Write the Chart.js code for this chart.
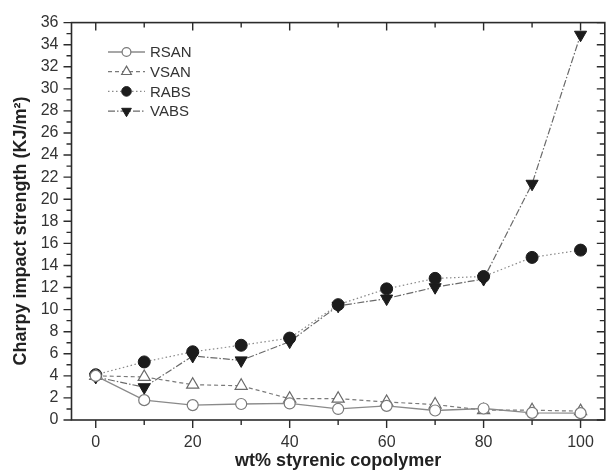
<!DOCTYPE html>
<html>
<head>
<meta charset="utf-8">
<script src="https://cdn.jsdelivr.net/npm/chart.js@4/dist/chart.umd.min.js"></script>
<style>
    html, body { margin: 0; padding: 0; background: #fff; }
    #wrap { width: 613px; height: 472px; }
</style>
</head>
<body>
<div id="wrap"><canvas id="chart" width="613" height="472"></canvas></div>
<script>
// wt% styrenic copolymer
const xValues = [0, 10, 20, 30, 40, 50, 60, 70, 80, 90, 100];

// Charpy impact strength, KJ/m2
const rsan = [4.0, 1.8, 1.35, 1.45, 1.5, 1.0, 1.28, 0.86, 1.04, 0.65, 0.62];
const vsan = [4.0, 3.9, 3.2, 3.1, 1.93, 1.93, 1.63, 1.4, 0.89, 0.89, 0.8];
const rabs = [4.1, 5.26, 6.18, 6.77, 7.42, 10.45, 11.88, 12.83, 13.0, 14.73, 15.39];
const vabs = [3.9, 2.97, 5.8, 5.4, 7.1, 10.34, 11.0, 12.03, 12.77, 21.4, 34.9];

const seriesNames = ['RSAN', 'VSAN', 'RABS', 'VABS'];

const xTicks = [0, 20, 40, 60, 80, 100];
const yTicks = [0, 2, 4, 6, 8, 10, 12, 14, 16, 18, 20, 22, 24, 26, 28, 30, 32, 34, 36];

const AXIS = '#2b2b2b';
const TEXT = '#333';
const FONT = '"Liberation Sans", Arial, sans-serif';

function points(ys) {
    return xValues.map((x, i) => ({ x, y: ys[i] }));
}

// ticks + frame, Origin style (left/bottom out, top/right in)
const framePlugin = {
    id: 'frame',
    afterDatasetsDraw(chart) {
        const { ctx, chartArea: a, scales: { x, y } } = chart;
        ctx.save();
        ctx.strokeStyle = AXIS;
        ctx.lineWidth = 1.6;
        ctx.strokeRect(a.left, a.top, a.right - a.left, a.bottom - a.top);

        ctx.lineWidth = 1.4;
        ctx.beginPath();
        for (let v = 0; v <= 100; v += 10) {
            const px = x.getPixelForValue(v);
            const len = v % 20 === 0 ? 8 : 5;
            ctx.moveTo(px, a.bottom); ctx.lineTo(px, a.bottom + len);
            ctx.moveTo(px, a.top); ctx.lineTo(px, a.top + len);
        }
        for (let v = 0; v <= 36; v += 1) {
            const py = y.getPixelForValue(v);
            const len = v % 2 === 0 ? 8 : 5;
            ctx.moveTo(a.left, py); ctx.lineTo(a.left - len, py);
            ctx.moveTo(a.right, py); ctx.lineTo(a.right - len, py);
        }
        ctx.stroke();

        // y title, a bit lower than the chart area centre like the original
        ctx.translate(21, 231);
        ctx.rotate(-Math.PI / 2);
        ctx.fillStyle = '#222';
        ctx.font = 'bold 18px ' + FONT;
        ctx.textAlign = 'center';
        ctx.textBaseline = 'middle';
        ctx.fillText('Charpy impact strength (KJ/m²)', 0, 0);
        ctx.restore();
    },
};

// legend: line sample with the marker in the middle
const legendPlugin = {
    id: 'sampleLegend',
    afterDraw(chart) {
        const { ctx } = chart;
        const x0 = 108, x1 = 145, top = 52, step = 19.7;
        ctx.save();
        chart.data.datasets.forEach((ds, i) => {
            const yy = top + i * step;
            ctx.strokeStyle = ds.borderColor;
            ctx.lineWidth = ds.borderWidth;
            ctx.setLineDash(ds.borderDash || []);
            ctx.beginPath();
            ctx.moveTo(x0, yy); ctx.lineTo(x1, yy);
            ctx.stroke();
            ctx.setLineDash([]);
            ctx.fillStyle = ds.pointBackgroundColor;
            ctx.strokeStyle = ds.pointBorderColor;
            ctx.lineWidth = ds.pointBorderWidth;
            Chart.helpers.drawPoint(ctx, {
                pointStyle: ds.pointStyle,
                radius: ds.pointRadius * 0.8,
                rotation: ds.pointRotation || 0,
                borderWidth: ds.pointBorderWidth,
            }, (x0 + x1) / 2, yy);
            ctx.fillStyle = TEXT;
            ctx.font = '15px ' + FONT;
            ctx.textBaseline = 'middle';
            ctx.fillText(ds.label, x1 + 5, yy + 1);
        });
        ctx.restore();
    },
};

new Chart(document.getElementById('chart'), {
    type: 'line',
    data: {
        datasets: [
            {
                label: seriesNames[0],
                data: points(rsan),
                borderColor: '#8a8a8a',
                borderWidth: 1.3,
                pointStyle: 'circle',
                pointRadius: 5.5,
                pointBackgroundColor: '#fff',
                pointBorderColor: '#7a7a7a',
                pointBorderWidth: 1.2,
            },
            {
                label: seriesNames[1],
                data: points(vsan),
                borderColor: '#7a7a7a',
                borderWidth: 1.2,
                borderDash: [4, 3],
                pointStyle: 'triangle',
                pointRadius: 7,
                pointBackgroundColor: '#fff',
                pointBorderColor: '#6a6a6a',
                pointBorderWidth: 1.2,
            },
            {
                label: seriesNames[2],
                data: points(rabs),
                borderColor: '#8a8a8a',
                borderWidth: 1.2,
                borderDash: [1.5, 2.5],
                pointStyle: 'circle',
                pointRadius: 6,
                pointBackgroundColor: '#1c1c1c',
                pointBorderColor: '#1c1c1c',
                pointBorderWidth: 1,
            },
            {
                label: seriesNames[3],
                data: points(vabs),
                borderColor: '#6a6a6a',
                borderWidth: 1.2,
                borderDash: [7, 2, 1.5, 2],
                pointStyle: 'triangle',
                pointRotation: 180,
                pointRadius: 7,
                pointBackgroundColor: '#1c1c1c',
                pointBorderColor: '#1c1c1c',
                pointBorderWidth: 1,
            },
        ],
    },
    options: {
        animation: false,
        responsive: false,
        devicePixelRatio: 1,
        layout: { padding: { left: 0, top: 16, right: 2, bottom: 0 } },
        plugins: {
            legend: { display: false },
            tooltip: { enabled: false },
        },
        scales: {
            x: {
                type: 'linear',
                min: -5,
                max: 105,
                afterFit: (scale) => { scale.height = 52; },
                afterBuildTicks: (scale) => { scale.ticks = xTicks.map((v) => ({ value: v })); },
                grid: { display: false, drawTicks: false },
                border: { display: false },
                ticks: {
                    autoSkip: false,
                    maxRotation: 0,
                    padding: 13,
                    color: TEXT,
                    font: { family: FONT, size: 16 },
                },
                title: {
                    display: true,
                    text: 'wt% styrenic copolymer',
                    color: '#222',
                    padding: { top: 0, bottom: 0 },
                    font: { family: FONT, size: 18, weight: 'bold' },
                },
            },
            y: {
                type: 'linear',
                min: 0,
                max: 36,
                afterFit: (scale) => { scale.width = 71.5; },
                afterBuildTicks: (scale) => { scale.ticks = yTicks.map((v) => ({ value: v })); },
                grid: { display: false, drawTicks: false },
                border: { display: false },
                ticks: {
                    autoSkip: false,
                    padding: 13,
                    color: TEXT,
                    font: { family: FONT, size: 16 },
                },
                title: { display: false },
            },
        },
    },
    plugins: [framePlugin, legendPlugin],
});
</script>
</body>
</html>
